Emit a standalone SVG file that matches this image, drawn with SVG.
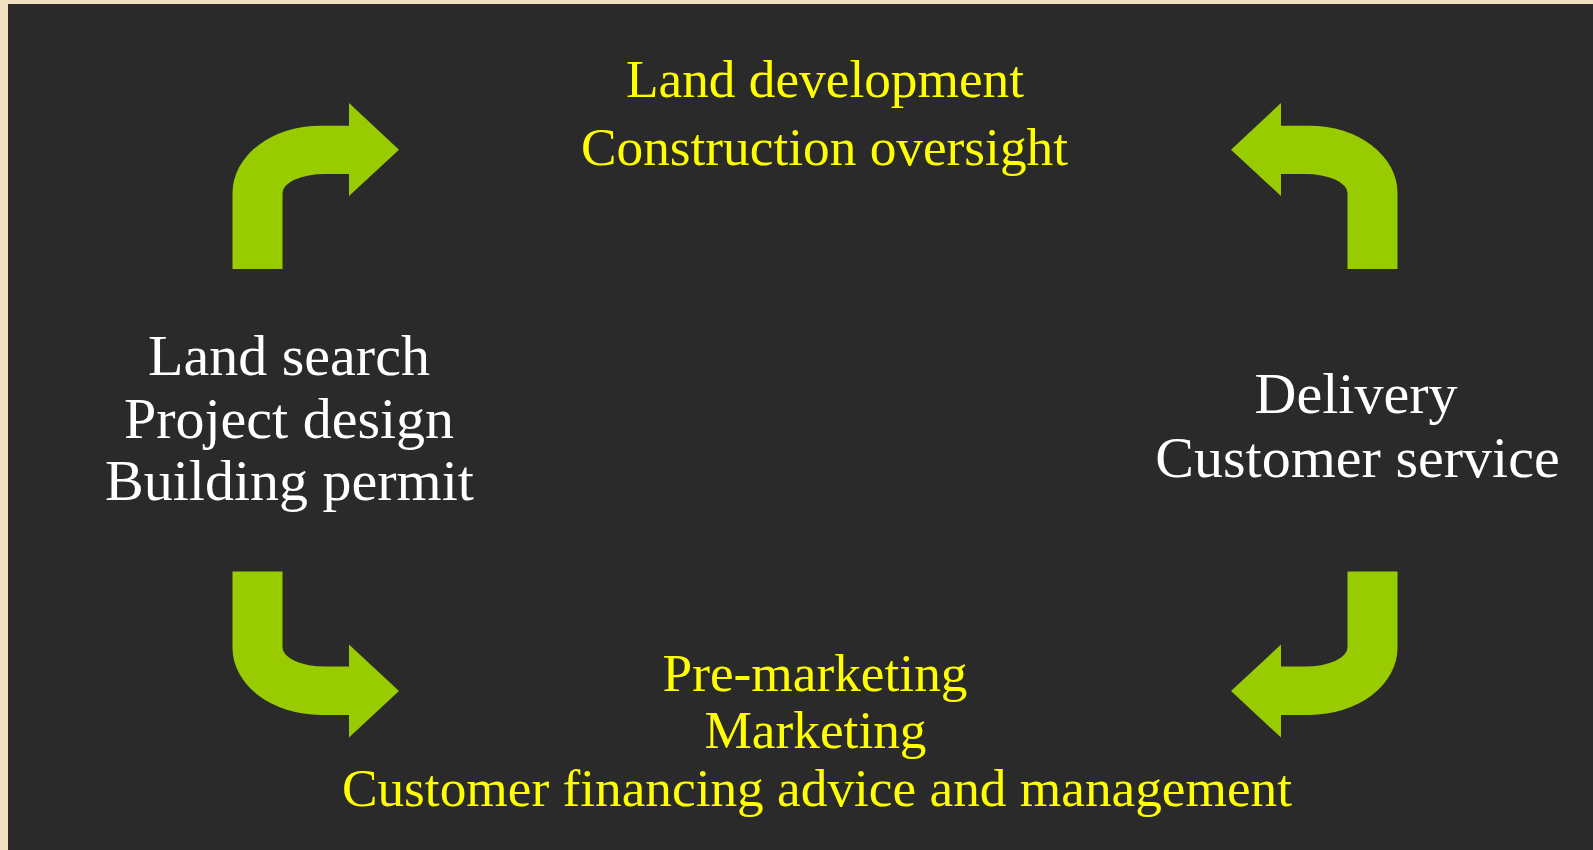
<svg xmlns="http://www.w3.org/2000/svg" xmlns:xlink="http://www.w3.org/1999/xlink" width="1593" height="850" viewBox="0 0 1593 850">
  <style>
    .lbl { font-family: "Liberation Serif", "Times New Roman", serif; text-anchor: middle; }
    .yel { fill: #FFFF00; font-size: 53.3px; }
    .wht { fill: #FFFFFF; font-size: 58px; }
    .arrow { fill: #99CC00; }
  </style>
  <defs>
    <!-- bent arrow: rises from the bottom, turns right -->
    <path id="bent-arrow" class="arrow" d="M 232.5 269 L 232.5 193 A 88 67 0 0 1 320.5 125.7 L 349 125.7 L 349 103 L 399 149.7 L 349 196 L 349 174 L 325 174 A 42.5 19 0 0 0 282.5 193 L 282.5 269 Z"/>
  </defs>

  <!-- frame and panel -->
  <rect x="0" y="0" width="1593" height="850" fill="#EFE0C1"/>
  <rect x="8" y="4" width="1585" height="846" fill="#2A2A2A"/>

  <!-- connectors -->
  <g id="connectors">
    <use xlink:href="#bent-arrow"/>
    <use xlink:href="#bent-arrow" transform="translate(1630,0) scale(-1,1)"/>
    <use xlink:href="#bent-arrow" transform="translate(0,840.6) scale(1,-1)"/>
    <use xlink:href="#bent-arrow" transform="translate(1630,840.6) scale(-1,-1)"/>
  </g>

  <g id="node-top">
    <text class="lbl yel" x="825" y="96.7">Land development</text>
    <text class="lbl yel" x="824.5" y="165">Construction oversight</text>
  </g>

  <g id="node-left">
    <text class="lbl wht" x="289" y="375">Land search</text>
    <text class="lbl wht" x="289" y="438.3">Project design</text>
    <text class="lbl wht" x="289.5" y="500">Building permit</text>
  </g>

  <g id="node-right">
    <text class="lbl wht" x="1356" y="412.7">Delivery</text>
    <text class="lbl wht" x="1357.5" y="476.7">Customer service</text>
  </g>

  <g id="node-bottom">
    <text class="lbl yel" x="815" y="690.7">Pre-marketing</text>
    <text class="lbl yel" x="815.5" y="748.3">Marketing</text>
    <text class="lbl yel" x="817" y="805.7">Customer financing advice and management</text>
  </g>
</svg>
